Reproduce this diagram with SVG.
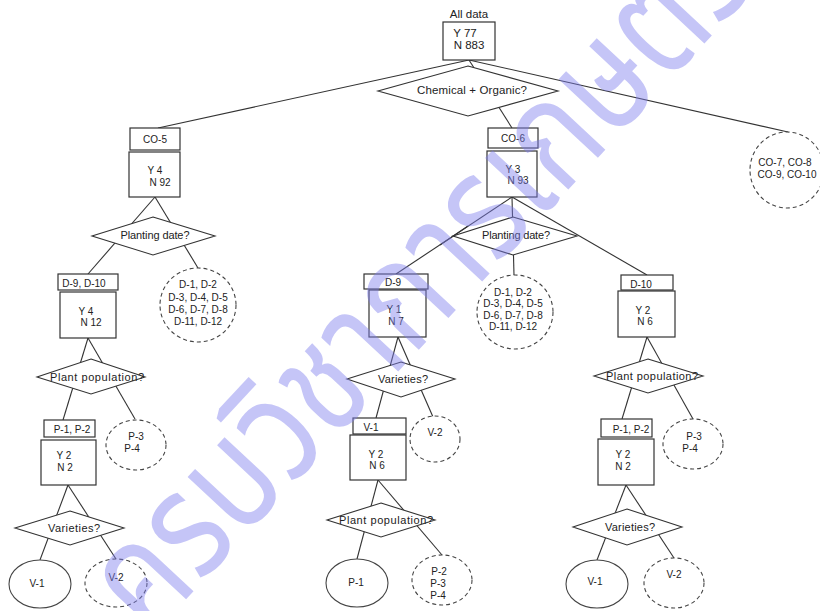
<svg xmlns="http://www.w3.org/2000/svg" width="820" height="611" viewBox="0 0 820 611">
  <style>
    .box { fill: #ffffff; stroke: #333333; stroke-width: 1.2; }
    .dia { fill: #ffffff; stroke: #333333; stroke-width: 1.1; }
    .leaf { fill: #ffffff; stroke: #444444; stroke-width: 1.1; }
    .open { fill: #ffffff; stroke: #444444; stroke-width: 1.1; stroke-dasharray: 4 3; }
    .edge { fill: none; stroke: #333333; stroke-width: 1.1; }
    text { font-family: "Liberation Sans", Arial, sans-serif; font-size: 10px; fill: #222222; text-anchor: middle; }
    .big { font-size: 11.5px; }
    .q { font-size: 11px; }
    .mark { font-family: "Noto Sans Thai", "Noto Sans", "DejaVu Sans", sans-serif; font-size: 150px; fill: #7f7fee; fill-opacity: 0.45; text-anchor: start; }
  </style>

  <rect x="0" y="0" width="820" height="611" fill="#ffffff"/>

  <!-- connectors: parent box bottom to each child's top -->
  <g id="connectors" class="edge">
    <line x1="469" y1="60" x2="158" y2="128"/>
    <line x1="469" y1="60" x2="512" y2="128"/>
    <line x1="469" y1="60" x2="788" y2="132"/>

    <line x1="155" y1="197" x2="88" y2="274"/>
    <line x1="155" y1="197" x2="198" y2="268"/>

    <line x1="512" y1="197" x2="396" y2="274"/>
    <line x1="512" y1="197" x2="514" y2="275"/>
    <line x1="512" y1="197" x2="647" y2="275"/>

    <line x1="88" y1="338" x2="63" y2="420"/>
    <line x1="88" y1="338" x2="135" y2="419"/>

    <line x1="398" y1="337" x2="376" y2="418"/>
    <line x1="398" y1="337" x2="433" y2="417"/>

    <line x1="647" y1="337" x2="622" y2="419"/>
    <line x1="647" y1="337" x2="693" y2="419"/>

    <line x1="68" y1="485" x2="40" y2="560"/>
    <line x1="68" y1="485" x2="116" y2="559"/>

    <line x1="378" y1="480" x2="357" y2="559"/>
    <line x1="378" y1="480" x2="442" y2="555"/>

    <line x1="626" y1="485" x2="597" y2="560"/>
    <line x1="626" y1="485" x2="674" y2="558"/>
  </g>

  <!-- root -->
  <g id="root">
    <text class="big" x="469" y="18">All data</text>
    <rect class="box" x="443" y="22" width="52" height="38"/>
    <text class="big" x="465" y="37">Y 77</text>
    <text class="big" x="469" y="49">N 883</text>
  </g>

  <g id="q-chem">
    <polygon class="dia" points="468,66 558,91 468,116 378,91"/>
    <text class="big" x="472" y="94" textLength="110">Chemical + Organic?</text>
  </g>

  <!-- CO-5 branch -->
  <g id="co5">
    <rect class="box" x="130" y="128" width="50" height="22"/>
    <text x="155" y="143">CO-5</text>
    <rect class="box" x="129" y="152" width="51" height="45"/>
    <text x="155" y="174">Y 4</text>
    <text x="160" y="186">N 92</text>
  </g>

  <g id="q-date-left">
    <polygon class="dia" points="153,217 215,236 153,255 92,236"/>
    <text class="q" x="155" y="239" textLength="69">Planting date?</text>
  </g>

  <g id="d9d10-left">
    <rect class="box" x="58" y="274" width="60" height="16"/>
    <text x="84" y="287">D-9, D-10</text>
    <rect class="box" x="60" y="292" width="56" height="46"/>
    <text x="86" y="315">Y 4</text>
    <text x="91" y="326">N 12</text>
  </g>

  <g id="dates-left">
    <ellipse class="open" cx="198" cy="305" rx="38" ry="37"/>
    <text x="198" y="288">D-1, D-2</text>
    <text x="198" y="301">D-3, D-4, D-5</text>
    <text x="198" y="313">D-6, D-7, D-8</text>
    <text x="198" y="325">D-11, D-12</text>
  </g>

  <g id="q-pop-left">
    <polygon class="dia" points="91,359 145,377 91,394 37,377"/>
    <text class="q" x="97" y="381" textLength="94">Plant population?</text>
  </g>

  <g id="p12-left">
    <rect class="box" x="44" y="420" width="51" height="17"/>
    <text x="72" y="433">P-1, P-2</text>
    <rect class="box" x="41" y="440" width="55" height="45"/>
    <text x="64" y="459">Y 2</text>
    <text x="65" y="471">N 2</text>
  </g>

  <g id="p34-left">
    <ellipse class="open" cx="136" cy="445" rx="30" ry="25"/>
    <text x="136" y="440">P-3</text>
    <text x="132" y="452">P-4</text>
  </g>

  <g id="q-var-left">
    <polygon class="dia" points="70,511 124,528 70,545 15,528"/>
    <text class="q" x="74" y="532" textLength="52">Varieties?</text>
  </g>

  <g id="v1-left">
    <ellipse class="leaf" cx="40" cy="584" rx="31" ry="24"/>
    <text x="37" y="587">V-1</text>
  </g>

  <g id="v2-left">
    <ellipse class="open" cx="116" cy="583" rx="31" ry="24"/>
    <text x="116" y="581">V-2</text>
  </g>

  <!-- CO-6 branch -->
  <g id="co6">
    <rect class="box" x="488" y="128" width="50" height="20"/>
    <text x="513" y="142">CO-6</text>
    <rect class="box" x="487" y="151" width="50" height="46"/>
    <text x="513" y="173">Y 3</text>
    <text x="518" y="184">N 93</text>
  </g>

  <g id="q-date-mid">
    <polygon class="dia" points="513,217 577,236 513,255 453,236"/>
    <text class="q" x="516" y="239" textLength="68">Planting date?</text>
  </g>

  <!-- line to D-9 runs over the left tip of the date diamond -->
  <line class="edge" x1="468" y1="226" x2="440" y2="245"/>

  <g id="d9-mid">
    <rect class="box" x="364" y="274" width="64" height="15"/>
    <text x="393" y="286">D-9</text>
    <rect class="box" x="369" y="290" width="57" height="47"/>
    <text x="394" y="313">Y 1</text>
    <text x="396" y="325">N 7</text>
  </g>

  <g id="dates-mid">
    <ellipse class="open" cx="515" cy="312" rx="38" ry="37"/>
    <text x="513" y="296">D-1, D-2</text>
    <text x="513" y="307">D-3, D-4, D-5</text>
    <text x="513" y="319">D-6, D-7, D-8</text>
    <text x="513" y="330">D-11, D-12</text>
  </g>

  <g id="q-var-mid">
    <polygon class="dia" points="401,362 455,379 401,397 347,379"/>
    <text class="q" x="403" y="383" textLength="50">Varieties?</text>
  </g>

  <g id="v1-mid">
    <rect class="box" x="353" y="418" width="53" height="16"/>
    <text x="371" y="431">V-1</text>
    <rect class="box" x="350" y="435" width="56" height="45"/>
    <text x="376" y="458">Y 2</text>
    <text x="377" y="469">N 6</text>
  </g>

  <g id="v2-mid">
    <ellipse class="open" cx="435" cy="439" rx="25" ry="23"/>
    <text x="435" y="436">V-2</text>
  </g>

  <g id="q-pop-mid">
    <polygon class="dia" points="381,503 435,520 381,537 327,520"/>
    <text class="q" x="386" y="524" textLength="94">Plant population?</text>
  </g>

  <g id="p1-mid">
    <ellipse class="leaf" cx="357" cy="583" rx="31" ry="24"/>
    <text x="356" y="586">P-1</text>
  </g>

  <g id="p234-mid">
    <ellipse class="open" cx="442" cy="580" rx="30" ry="25"/>
    <text x="439" y="575">P-2</text>
    <text x="438" y="587">P-3</text>
    <text x="438" y="599">P-4</text>
  </g>

  <g id="d10-right">
    <rect class="box" x="621" y="275" width="52" height="15"/>
    <text x="641" y="288">D-10</text>
    <rect class="box" x="618" y="291" width="57" height="46"/>
    <text x="643" y="314">Y 2</text>
    <text x="645" y="325">N 6</text>
  </g>

  <g id="q-pop-right">
    <polygon class="dia" points="648,359 703,376 648,393 594,376"/>
    <text class="q" x="652" y="380" textLength="92">Plant population?</text>
  </g>

  <g id="p12-right">
    <rect class="box" x="601" y="419" width="51" height="18"/>
    <text x="631" y="433">P-1, P-2</text>
    <rect class="box" x="598" y="439" width="56" height="46"/>
    <text x="623" y="458">Y 2</text>
    <text x="623" y="470">N 2</text>
  </g>

  <g id="p34-right">
    <ellipse class="open" cx="693" cy="444" rx="30" ry="25"/>
    <text x="694" y="440">P-3</text>
    <text x="690" y="452">P-4</text>
  </g>

  <g id="q-var-right">
    <polygon class="dia" points="627,509 682,527 627,545 573,527"/>
    <text class="q" x="630" y="531" textLength="50">Varieties?</text>
  </g>

  <g id="v1-right">
    <ellipse class="leaf" cx="597" cy="584" rx="31" ry="24"/>
    <text x="595" y="585">V-1</text>
  </g>

  <g id="v2-right">
    <ellipse class="open" cx="674" cy="583" rx="30" ry="25"/>
    <text x="674" y="578">V-2</text>
  </g>

  <!-- CO-7 .. CO-10 leaf -->
  <g id="co7-10">
    <ellipse class="open" cx="787" cy="170" rx="37" ry="38"/>
    <text x="785" y="166">CO-7, CO-8</text>
    <text x="787" y="178">CO-9, CO-10</text>
  </g>

  <!-- watermark lettering across the sheet -->
  <text class="mark" transform="translate(149,639) rotate(-47)" textLength="895" lengthAdjust="spacingAndGlyphs">ครบวิชาการเกษตร</text>
</svg>
